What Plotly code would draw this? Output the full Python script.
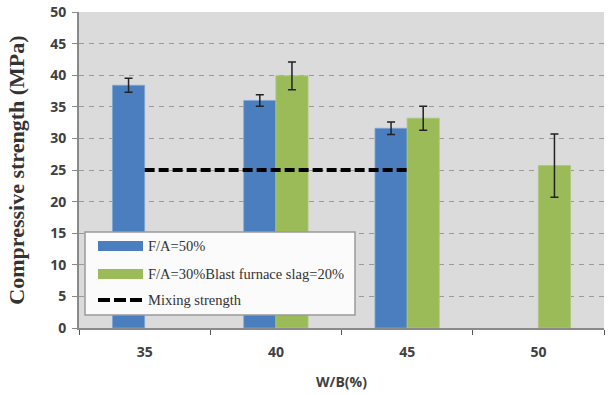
import plotly.graph_objects as go

categories = ["35", "40", "45", "50"]
fa50 = [38.4, 36.0, 31.6, None]
fa50_err = [1.1, 0.9, 1.0, 0]
slag = [None, 39.9, 33.2, 25.7]
slag_err = [0, 2.2, 1.9, 5.0]
mix_x = ["35", "40", "45"]
mix_y = [25, 25, 25]
y_ticks = [0, 5, 10, 15, 20, 25, 30, 35, 40, 45, 50]
legend_labels = ["F/A=50%", "F/A=30%Blast furnace slag=20%", "Mixing strength"]

BLUE = "#4a7ebf"
GREEN = "#9bbb59"

W, H = 608, 395
ML, MR, MT, MB = 79, 4, 12, 67

fig = go.Figure()
fig.add_trace(go.Bar(x=categories, y=fa50, name=legend_labels[0],
                     marker=dict(color=BLUE, line=dict(color="#7fa6d6", width=0.8)),
                     error_y=dict(type="data", array=fa50_err, color="#222", thickness=1.5, width=4)))
fig.add_trace(go.Bar(x=categories, y=slag, name=legend_labels[1],
                     marker=dict(color=GREEN, line=dict(color="#a9c878", width=0.8)),
                     error_y=dict(type="data", array=slag_err, color="#222", thickness=1.5, width=4)))
fig.add_trace(go.Scatter(x=mix_x, y=mix_y, mode="lines", name=legend_labels[2],
                         line=dict(color="black", width=4, dash="10px,4px")))

fig.update_layout(
    width=W, height=H,
    margin=dict(l=ML, r=MR, t=MT, b=MB),
    paper_bgcolor="white",
    plot_bgcolor="#dbdbdb",
    barmode="group", bargap=0.51, bargroupgap=0,
    showlegend=False,
    font=dict(family="Liberation Sans", color="#404040"),
)
fig.update_xaxes(type="category", categoryorder="array", categoryarray=categories,
                 automargin=False,
                 showline=True, linecolor="#8a8a8a", linewidth=2,
                 ticks="outside", tickson="boundaries", ticklen=5, tickcolor="#555",
                 ticklabelstandoff=10,
                 tickfont=dict(family="Open Sans", size=14, color="#404040", weight="bold"),
                 title=dict(text="W/B(%)", font=dict(family="Open Sans", size=14, color="#404040", weight="bold"), standoff=17),
                 showgrid=False)
fig.update_yaxes(range=[0, 50], tickvals=y_ticks, automargin=False,
                 showline=True, linecolor="#8a8a8a", linewidth=2,
                 ticks="outside", ticklen=5, tickcolor="#8a8a8a",
                 ticklabelstandoff=3,
                 showgrid=True, gridcolor="#9a9a9a", griddash="5px,5px", gridwidth=1,
                 zeroline=False,
                 tickfont=dict(family="Open Sans", size=14, color="#404040", weight="bold"),
                 title=dict(text="Compressive strength (MPa)",
                            font=dict(family="Liberation Serif", size=22, color="#333", weight="bold"),
                            standoff=19))

# custom legend box (paper coordinates)
px0, pw = ML, W - ML - MR
py0, ph = MT, H - MT - MB
def fx(p):
    return (p - px0) / pw
def fy(p):
    return 1 - (p - py0) / ph

shapes = [
    dict(type="rect", xref="paper", yref="paper", x0=fx(85), x1=fx(355), y0=fy(315), y1=fy(232),
         fillcolor="#fbfbfb", line=dict(color="#9a9a9a", width=1.5)),
    dict(type="rect", xref="paper", yref="paper", x0=fx(98), x1=fx(143), y0=fy(251), y1=fy(241),
         fillcolor=BLUE, line=dict(width=0)),
    dict(type="rect", xref="paper", yref="paper", x0=fx(98), x1=fx(143), y0=fy(279), y1=fy(269),
         fillcolor=GREEN, line=dict(width=0)),
    dict(type="line", xref="paper", yref="paper", x0=fx(98), x1=fx(143), y0=fy(300), y1=fy(300),
         line=dict(color="black", width=4, dash="12px,4px")),
]
annotations = []
for label, yy in zip(legend_labels, [246, 274, 300]):
    annotations.append(dict(xref="paper", yref="paper", x=fx(146), y=fy(yy), text=label,
                            showarrow=False, xanchor="left", yanchor="middle",
                            font=dict(family="Liberation Serif", size=14.5, color="#333")))
fig.update_layout(shapes=shapes, annotations=annotations)

fig.write_html("out.html", config={"displayModeBar": False},
               post_script="document.body.style.margin='0';")
